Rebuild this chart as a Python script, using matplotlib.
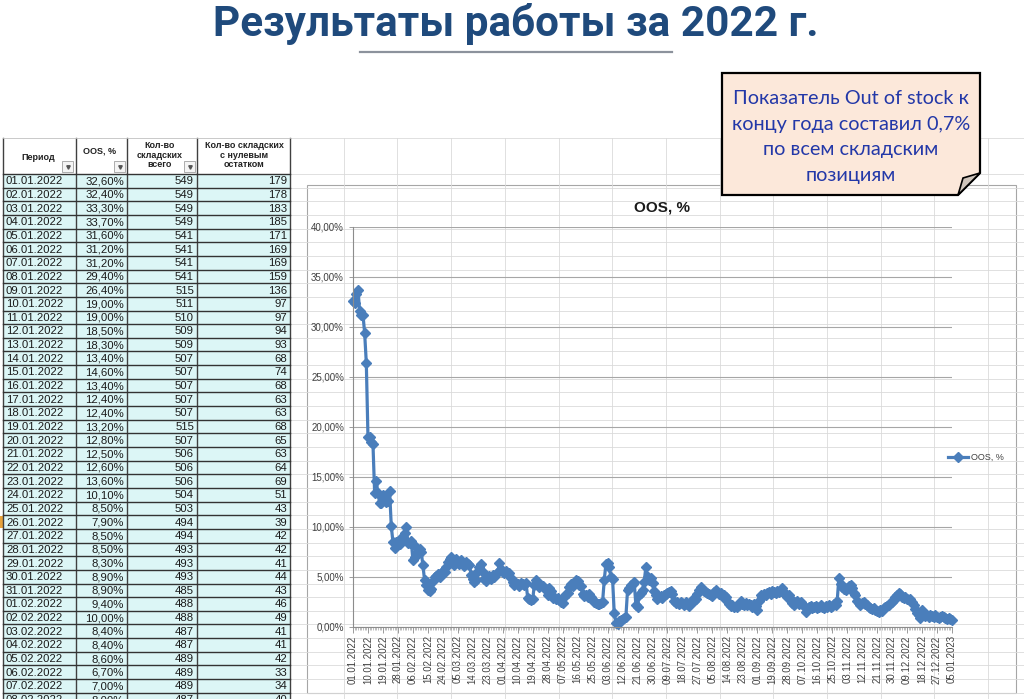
import numpy as np
import pandas as pd
import matplotlib
matplotlib.use('Agg')
import matplotlib.pyplot as plt
from matplotlib.patches import Rectangle, Polygon
from matplotlib.ticker import FuncFormatter

# OOS, % по дням (01.01.2022 - 05.01.2023), 02.09-10.09 в выгрузке нет
oos_jan = [32.6, 32.4, 33.3, 33.7, 31.6, 31.2, 31.2, 29.4, 26.4, 19.0, 19.0, 18.5, 18.3, 13.4, 14.6,
           13.4, 12.4, 12.4, 13.2, 12.8, 12.5, 12.6, 13.6, 10.1, 8.5, 7.9, 8.5, 8.5, 8.3, 8.9, 8.9]
oos_feb = [9.4, 10.0, 8.4, 8.4, 8.6, 6.7, 7.0, 8.0, 7.6, 7.8, 7.5, 6.2, 4.7, 4.2, 3.7, 3.6, 3.8, 4.6,
           5.0, 5.1, 5.3, 5.0, 5.4, 5.6, 5.5, 6.0, 6.5, 6.8]
oos_mar = [7.0, 6.6, 6.2, 6.8, 6.5, 6.3, 6.7, 6.4, 6.1, 6.5, 6.3, 6.2, 5.2, 4.8, 4.5, 4.7, 5.6, 6.0,
           6.3, 5.5, 4.8, 4.6, 4.9, 5.1, 4.8, 5.2, 5.0, 5.3, 5.5, 6.4, 5.8]
oos_apr = [5.5, 5.4, 5.6, 5.3, 5.4, 4.9, 4.5, 4.2, 4.4, 4.3, 4.1, 4.4, 4.3, 4.2, 4.4, 2.9, 2.8, 2.7,
           2.8, 4.2, 4.7, 4.3, 4.0, 4.2, 4.1, 3.9, 3.8, 3.2, 3.9, 3.6]
oos_may = [2.9, 3.0, 2.8, 2.9, 2.7, 2.5, 2.4, 3.0, 3.3, 3.4, 4.0, 4.3, 4.1, 4.4, 4.7, 4.6, 4.2, 4.1,
           3.3, 3.1, 3.2, 3.0, 3.3, 3.0, 2.7, 2.5, 2.4, 2.3, 2.3, 2.4, 2.5]
oos_jun = [4.7, 6.3, 6.4, 6.0, 5.0, 4.8, 1.4, 0.4, 0.3, 0.6, 0.7, 0.8, 0.9, 1.0, 3.7, 3.9, 4.2, 4.3,
           4.5, 2.2, 2.0, 3.2, 3.4, 3.7, 4.5, 6.0, 5.0, 4.7, 4.9, 4.4]
oos_jul = [3.6, 3.2, 2.8, 3.0, 3.1, 2.9, 3.2, 3.3, 3.4, 3.5, 3.6, 3.3, 2.6, 2.4, 2.5, 2.3, 2.5, 2.4,
           2.2, 2.5, 2.3, 2.1, 2.4, 2.7, 2.6, 2.8, 3.3, 3.7, 4.0, 3.8, 3.6]
oos_aug = [3.5, 3.4, 3.3, 3.2, 3.1, 3.5, 3.7, 3.5, 3.3, 3.4, 3.1, 3.2, 3.0, 2.6, 2.3, 2.1, 2.2, 2.0,
           2.1, 2.0, 2.2, 2.6, 2.3, 2.2, 2.4, 2.2, 2.3, 2.2, 2.0, 2.3, 2.1]
oos_sep = [1.7, 2.6, 3.2, 3.0, 3.3, 3.2, 3.4, 3.5, 3.3, 3.6, 3.5, 3.4, 3.6, 3.5, 3.6, 3.9, 3.4, 3.3,
           3.0, 3.2, 2.8]
oos_oct = [2.4, 2.2, 2.5, 2.6, 2.3, 2.5, 2.3, 2.1, 1.5, 1.8, 2.0, 2.1, 1.9, 2.0, 2.1, 1.9, 2.0, 2.2,
           2.0, 1.9, 2.1, 2.0, 2.2, 2.0, 2.1, 2.3, 2.2, 2.6, 4.9, 4.3, 4.0]
oos_nov = [3.8, 3.7, 3.9, 4.1, 4.2, 3.9, 3.4, 3.2, 2.6, 2.4, 2.2, 2.4, 2.5, 2.3, 2.2, 2.0, 1.9, 1.8,
           1.9, 1.7, 1.6, 1.5, 1.7, 1.6, 1.9, 2.0, 2.1, 2.2, 2.4, 2.5]
oos_dec = [2.7, 3.0, 3.2, 3.4, 3.3, 3.0, 2.9, 3.0, 2.8, 2.7, 2.8, 2.5, 2.2, 1.8, 1.4, 1.2, 0.9, 1.7,
           1.3, 1.1, 1.2, 1.0, 1.2, 1.1, 1.0, 1.2, 1.0, 0.9, 1.0, 1.1, 1.0]
oos_jan23 = [0.9, 0.8, 0.9, 0.8, 0.7]

# столбцы таблицы слева
stock_total = [549, 549, 549, 549, 541, 541, 541, 541, 515, 511, 510, 509, 509, 507, 507, 507, 507,
               507, 515, 507, 506, 506, 506, 504, 503, 494, 494, 493, 493, 493, 485, 488, 488, 487,
               487, 489, 489, 489, 487]
stock_zero = [179, 178, 183, 185, 171, 169, 169, 159, 136, 97, 97, 94, 93, 68, 74, 68, 63, 63, 68,
              65, 63, 64, 69, 51, 43, 39, 42, 42, 41, 44, 43, 46, 49, 41, 41, 42, 33, 34, 40]

oos = (oos_jan + oos_feb + oos_mar + oos_apr + oos_may + oos_jun + oos_jul + oos_aug + oos_sep
       + oos_oct + oos_nov + oos_dec + oos_jan23)
dates = pd.date_range('2022-01-01', '2023-01-05')
dates = dates[(dates < '2022-09-02') | (dates > '2022-09-10')]
labels = [d.strftime('%d.%m.%Y') for d in dates]

blue = '#4A7EBB'
W, H = 1024, 699
fig = plt.figure(figsize=(W / 100, H / 100), dpi=100)

bg = fig.add_axes([0, 0, 1, 1], zorder=0)
bg.set_xlim(0, W)
bg.set_ylim(H, 0)
bg.axis('off')

# заголовок слайда
bg.text(516, 24, 'Результаты работы за 2022 г.', ha='center', va='center', fontsize=30.4,
        fontweight='bold', color='#1F4A7C', family=['Roboto', 'DejaVu Sans'])
bg.plot([360, 672], [52, 52], color='#8C929C', lw=1.6)

# сетка листа Excel
row_h = 13.65
grid_c = '#DADADA'
for k in range(1, 14):
    gx = 290 + 53.7 * k
    bg.plot([gx, gx], [138, H], color=grid_c, lw=0.6)
bg.plot([290, W], [138, 138], color=grid_c, lw=0.6)
for k in range(40):
    gy = 174 + row_h * k
    bg.plot([290, W], [gy, gy], color=grid_c, lw=0.6)

# таблица
cols = [3, 76, 127, 197, 290]
bg.add_patch(Rectangle((cols[0], 174), cols[-1] - cols[0], H - 174, fc='#DCF6F6', ec='none'))
bg.add_patch(Rectangle((cols[0], 138), cols[-1] - cols[0], 36, fc='white', ec='none'))
for cx in cols:
    bg.plot([cx, cx], [138, H], color='#404040', lw=1.0)
bg.plot([cols[0], cols[-1]], [138, 138], color='#C0C0C0', lw=0.6)
for k in range(len(stock_total) + 1):
    ry = 174 + row_h * k
    bg.plot([cols[0], cols[-1]], [ry, ry], color='#333333', lw=1.0)

hfont = dict(fontsize=6.5, fontweight='bold', color='#222222', ha='center', va='center',
             family=['Liberation Sans', 'DejaVu Sans'], linespacing=1.05)
bg.text(38, 157, 'Период', **hfont)
bg.text(100, 151, 'OOS, %', **hfont)
bg.text(160, 155, 'Кол-во\nскладских\nвсего', **hfont)
bg.text(244, 155, 'Кол-во складских\nс нулевым\nостатком', **hfont)
for bx in [62, 114, 184]:
    bg.add_patch(Rectangle((bx, 161), 11, 11, fc='#F4F4F4', ec='#A0A0A0', lw=0.6))
    bg.plot([bx + 5.5], [166.5], marker='v', ms=2.5, color='#555555')

cfont = dict(fontsize=8.2, color='#1A1A1A', va='center', family=['Liberation Sans', 'DejaVu Sans'])
for k in range(len(stock_total)):
    cy = 174 + row_h * (k + 0.5) + 0.5
    bg.text(6, cy, labels[k], ha='left', **cfont)
    bg.text(124, cy, f'{oos[k]:.2f}'.replace('.', ',') + '%', ha='right', **cfont)
    bg.text(194, cy, str(stock_total[k]), ha='right', **cfont)
    bg.text(287, cy, str(stock_zero[k]), ha='right', **cfont)
bg.add_patch(Rectangle((0, 174 + row_h * 25 + 1), 2.5, row_h - 2, fc='#E8A33C', ec='none'))

# рамка диаграммы
bg.add_patch(Rectangle((307, 185), 709, 508, fc='white', ec='#A6A6A6', lw=0.8))
bg.text(662, 207, 'OOS, %', ha='center', va='center', fontsize=11, fontweight='bold',
        color='#1A1A1A', family=['Liberation Sans', 'DejaVu Sans'])

# график
ax = fig.add_axes([353 / W, (H - 627) / H, 599 / W, 400 / H], zorder=1)
ax.patch.set_alpha(0)
x = np.arange(len(oos))
ax.plot(x, oos, color=blue, lw=2.3, marker='D', ms=4.6, mec=blue, mfc=blue, clip_on=False)
ax.set_xlim(0, len(oos) - 1)
ax.set_ylim(0, 40)
ax.set_yticks(range(0, 41, 5))
ax.yaxis.set_major_formatter(FuncFormatter(lambda v, p: f'{v:.2f}'.replace('.', ',') + '%'))
ax.yaxis.grid(True, color='#A6A6A6', lw=0.8)
ax.set_axisbelow(True)
for s in ['top', 'right']:
    ax.spines[s].set_visible(False)
for s in ['left', 'bottom']:
    ax.spines[s].set_color('#8C8C8C')
    ax.spines[s].set_linewidth(0.8)
major = list(range(0, len(oos), 9))
ax.set_xticks(major)
ax.set_xticklabels([labels[i] for i in major], rotation=90)
ax.set_xticks(x, minor=True)
ax.tick_params(axis='x', which='major', length=4, width=0.6, color='#8C8C8C', pad=2,
               labelsize=6.9, labelcolor='#404040')
ax.tick_params(axis='x', which='minor', length=2.5, width=0.4, color='#8C8C8C')
ax.tick_params(axis='y', length=3, width=0.6, color='#8C8C8C', labelsize=7, labelcolor='#404040')
for t in ax.get_xticklabels() + ax.get_yticklabels():
    t.set_family(['Liberation Sans', 'DejaVu Sans'])

fg = fig.add_axes([0, 0, 1, 1], zorder=2)
fg.set_xlim(0, W)
fg.set_ylim(H, 0)
fg.axis('off')
fg.patch.set_alpha(0)

# легенда
fg.plot([948, 968], [457, 457], color=blue, lw=2.3)
fg.plot([958], [457], marker='D', ms=4.6, color=blue)
fg.text(971, 457, 'OOS, %', fontsize=6.5, va='center', color='#404040',
        family=['Liberation Sans', 'DejaVu Sans'])

# выноска
fg.add_patch(Polygon([(722, 73), (980, 73), (980, 173), (958, 195), (722, 195)], closed=True,
                     fc='#FCE8DA', ec='black', lw=1.6))
fg.add_patch(Polygon([(958, 195), (980, 173), (963, 178)], closed=True,
                     fc='#CFC5BC', ec='black', lw=1.2))
note = ['Показатель Out of stock к', 'концу года составил 0,7%', 'по всем складским', 'позициям']
for k, line in enumerate(note):
    fg.text(851, 99 + 25.5 * k, line, ha='center', va='center', fontsize=14.3, color='#2338A8',
            family=['Lato', 'DejaVu Sans'])

fig.savefig('out.png', dpi=100)
